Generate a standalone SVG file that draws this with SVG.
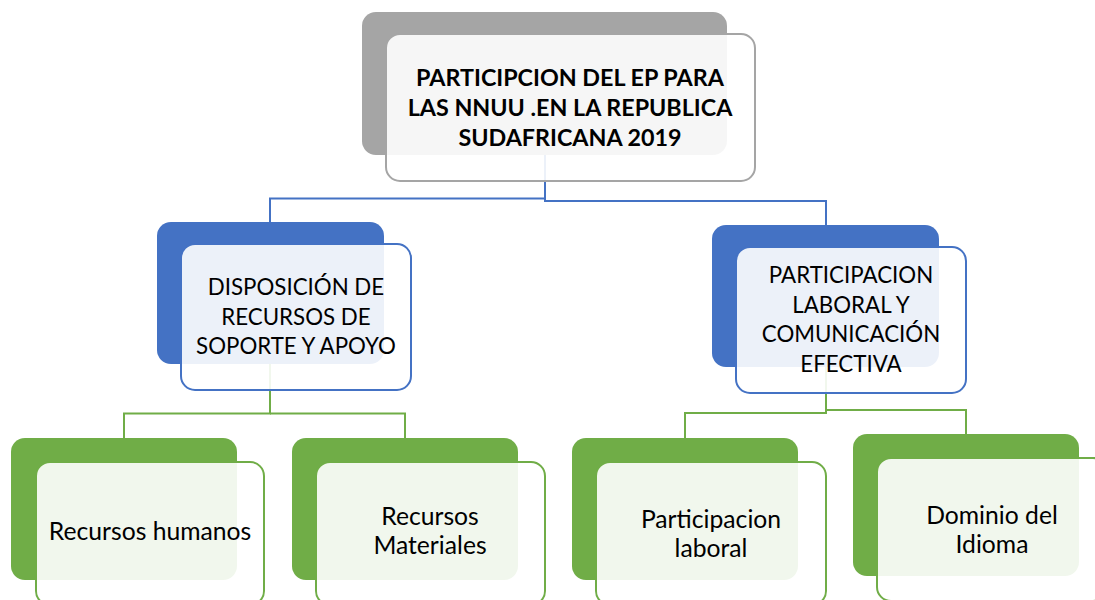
<svg xmlns="http://www.w3.org/2000/svg" width="1095" height="600" viewBox="0 0 1095 600">
  <style>
    .bg { stroke: none; }
    .gray { fill: #a5a5a5; }
    .blue { fill: #4472c4; }
    .green { fill: #70ad47; }
    .front { fill: #ffffff; fill-opacity: 0.9; stroke-width: 2; }
    .sgray { stroke: #a5a5a5; }
    .sblue { stroke: #4472c4; }
    .sgreen { stroke: #70ad47; }
    .conn { fill: none; stroke-width: 2; }
    .cblue { stroke: #4472c4; }
    .cgreen { stroke: #70ad47; }
    text { font-family: "Lato", "Liberation Sans", sans-serif; font-size: 24.7px; fill: #000000; text-anchor: middle; }
    .bold { font-weight: bold; font-size: 23.3px; }
    .caps { font-size: 22.3px; }
  </style>
  <rect width="1095" height="600" fill="#ffffff"/>
  <g id="connectors">
    <path class="conn cblue" d="M545,155 V198.5 H270 V222"/>
    <path class="conn cblue" d="M545,198.5 V201 H826 V225"/>
    <path class="conn cgreen" d="M270,364 V413.5 H124 V438"/>
    <path class="conn cgreen" d="M270,413.5 H405 V438"/>
    <path class="conn cgreen" d="M826,367 V413 H685 V438"/>
    <path class="conn cgreen" d="M826,410 H966 V434"/>
  </g>
  <g id="node-root">
    <rect class="bg gray" x="362" y="12" width="365" height="143" rx="14"/>
    <rect class="front sgray" x="386" y="34" width="369" height="147" rx="14"/>
    <text class="bold"><tspan x="570" y="86">PARTICIPCION DEL EP PARA</tspan><tspan x="570" y="116">LAS NNUU .EN LA REPUBLICA</tspan><tspan x="570" y="145.5">SUDAFRICANA 2019</tspan></text>
  </g>
  <g id="node-disposicion">
    <rect class="bg blue" x="157" y="222" width="227" height="142" rx="14"/>
    <rect class="front sblue" x="181" y="244" width="230" height="146" rx="14"/>
    <text class="caps"><tspan x="296" y="295">DISPOSICIÓN DE</tspan><tspan x="296" y="325">RECURSOS DE</tspan><tspan x="296" y="354">SOPORTE Y APOYO</tspan></text>
  </g>
  <g id="node-participacion">
    <rect class="bg blue" x="712" y="225" width="227" height="142" rx="14"/>
    <rect class="front sblue" x="736" y="247" width="230" height="146" rx="14"/>
    <text class="caps"><tspan x="851" y="283">PARTICIPACION</tspan><tspan x="851" y="313">LABORAL Y</tspan><tspan x="851" y="342">COMUNICACIÓN</tspan><tspan x="851" y="372">EFECTIVA</tspan></text>
  </g>
  <g id="node-humanos">
    <rect class="bg green" x="11" y="438" width="226" height="142" rx="14"/>
    <rect class="front sgreen" x="36" y="462" width="228" height="143" rx="14"/>
    <text><tspan x="150" y="540">Recursos humanos</tspan></text>
  </g>
  <g id="node-materiales">
    <rect class="bg green" x="292" y="438" width="226" height="142" rx="14"/>
    <rect class="front sgreen" x="316" y="462" width="229" height="143" rx="14"/>
    <text><tspan x="430" y="525">Recursos</tspan><tspan x="430" y="554">Materiales</tspan></text>
  </g>
  <g id="node-laboral">
    <rect class="bg green" x="572" y="438" width="226" height="142" rx="14"/>
    <rect class="front sgreen" x="596" y="462" width="230" height="143" rx="14"/>
    <text><tspan x="711" y="528">Participacion</tspan><tspan x="711" y="557">laboral</tspan></text>
  </g>
  <g id="node-idioma">
    <rect class="bg green" x="853" y="434" width="226" height="142" rx="14"/>
    <rect class="front sgreen" x="877" y="458" width="230" height="143" rx="14"/>
    <text><tspan x="992" y="524">Dominio del</tspan><tspan x="992" y="553">Idioma</tspan></text>
  </g>
</svg>
